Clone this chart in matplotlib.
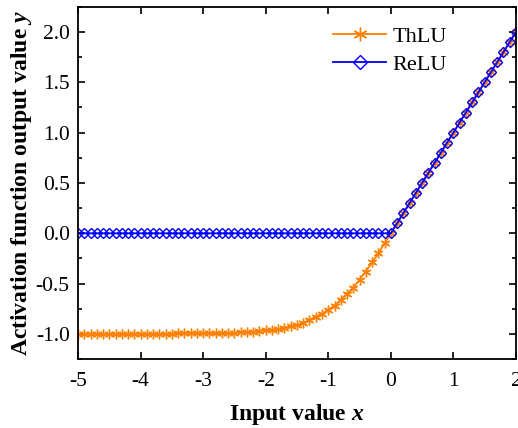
import numpy as np
import matplotlib
matplotlib.use("Agg")
import matplotlib.pyplot as plt
from matplotlib.ticker import MultipleLocator

# dados: x de -5 a 2, passo 0.1
x = np.round(np.arange(-50, 21) / 10, 1)

# ThLU, parte negativa (x = -5.0 ... -0.1)
thlu_neg = [-1.00, -1.00, -1.00, -1.00, -1.00, -1.00, -1.00, -1.00, -1.00, -1.00,
            -1.00, -1.00, -1.00, -1.00, -1.00, -1.00, -0.99, -0.99, -0.99, -0.99,
            -0.99, -0.99, -0.99, -0.99, -0.99, -0.99, -0.98, -0.98, -0.98, -0.97,
            -0.96, -0.96, -0.95, -0.94, -0.92, -0.91, -0.89, -0.86, -0.83, -0.80,
            -0.76, -0.72, -0.66, -0.60, -0.54, -0.46, -0.38, -0.29, -0.20, -0.10]
# parte positiva (x = 0.0 ... 2.0)
pos = [0.0, 0.1, 0.2, 0.3, 0.4, 0.5, 0.6, 0.7, 0.8, 0.9, 1.0,
       1.1, 1.2, 1.3, 1.4, 1.5, 1.6, 1.7, 1.8, 1.9, 2.0]
thlu = np.array(thlu_neg + pos)
relu = np.array([0.0] * 50 + pos)

plt.rcParams['font.family'] = ['Liberation Serif', 'DejaVu Serif']
plt.rcParams['mathtext.fontset'] = 'custom'
plt.rcParams['mathtext.it'] = 'Liberation Serif:italic:bold'

fig = plt.figure(figsize=(5.18, 4.28), dpi=100)
ax = fig.add_axes([0.1506, 0.161, 0.8454, 0.823])

ax.plot(x, thlu, '-', color='#FF8000', lw=1.3, marker=(6, 2, 0), ms=7,
        mew=1.0, label='ThLU')
ax.plot(x, relu, '-', color='#0000FF', lw=1.3, marker='D', ms=5,
        mfc='none', mew=1.0, label='ReLU')

ax.set_xlim(-5, 2)
ax.set_ylim(-1.25, 2.25)
ax.xaxis.set_major_locator(MultipleLocator(1))
ax.yaxis.set_major_locator(MultipleLocator(0.5))
ax.yaxis.set_minor_locator(MultipleLocator(0.25))
ax.xaxis.set_major_formatter(plt.FuncFormatter(lambda v, p: '%d' % v))
ax.yaxis.set_major_formatter(plt.FuncFormatter(lambda v, p: '%.1f' % v))
ax.tick_params(which='both', direction='in', top=True, right=True,
               labelsize=15.5, width=1.2)
ax.tick_params(which='major', length=5)
ax.tick_params(which='minor', length=3)
ax.tick_params(axis='x', pad=9)
ax.tick_params(axis='y', pad=6)
for s in ax.spines.values():
    s.set_linewidth(1.3)

ax.set_xlabel('Input value $\\mathit{x}$', fontsize=17, fontweight='bold',
              labelpad=8)
ax.set_ylabel('Activation function output value $\\mathit{y}$', fontsize=17,
              fontweight='bold', labelpad=1.5)

ax.legend(loc='upper left', bbox_to_anchor=(0.582, 0.944), frameon=False,
          fontsize=16, handlelength=2.4, handletextpad=0.27, labelspacing=0.33,
          borderpad=0, borderaxespad=0, markerscale=1.4)

fig.savefig('out.png', dpi=100)
